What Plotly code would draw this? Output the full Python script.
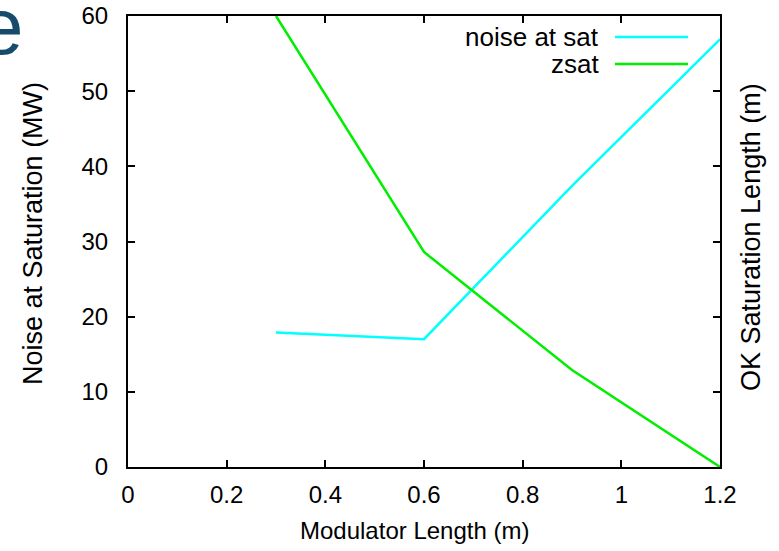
import plotly.graph_objects as go

# Data
modulator_length = [0.3, 0.6, 0.9, 1.2]
noise_at_sat = [17.9, 17.0, 37.4, 56.9]
zsat = [60.0, 28.6, 12.9, 0.0]
series_names = ["noise at sat", "zsat"]
series_colors = ["#00ffff", "#00ee00"]
x_ticks = [0, 0.2, 0.4, 0.6, 0.8, 1.0, 1.2]
x_tick_labels = ["0", "0.2", "0.4", "0.6", "0.8", "1", "1.2"]
y_ticks = [0, 10, 20, 30, 40, 50, 60]

W, H = 779, 551
L, R, T, B = 128, 59, 16, 84
FONT = "Liberation Sans, Arial, sans-serif"

fig = go.Figure()
fig.add_trace(go.Scatter(x=modulator_length, y=noise_at_sat, mode="lines",
                         name=series_names[0], line=dict(color=series_colors[0], width=2.5),
                         yaxis="y"))
fig.add_trace(go.Scatter(x=modulator_length, y=zsat, mode="lines",
                         name=series_names[1], line=dict(color=series_colors[1], width=2.5),
                         yaxis="y2"))

axis_common = dict(showgrid=False, zeroline=False, showline=True, linecolor="black",
                   linewidth=2, ticks="inside", ticklen=7, tickwidth=1.5, tickcolor="black",
                   automargin=False,
                   tickfont=dict(family=FONT, size=24, color="black"))

fig.update_layout(
    width=W, height=H,
    margin=dict(l=L, r=R, t=T, b=B, autoexpand=False),
    paper_bgcolor="white", plot_bgcolor="white",
    showlegend=False,
    xaxis=dict(range=[0, 1.2], tickvals=x_ticks, ticktext=x_tick_labels, mirror="ticks",
               ticklabelstandoff=5, **axis_common),
    yaxis=dict(range=[0, 60], tickvals=y_ticks, mirror="ticks", ticklabelstandoff=13,
               **axis_common),
    yaxis2=dict(range=[0, 60], overlaying="y", side="right", showticklabels=False,
                showgrid=False, zeroline=False, showline=False, ticks="", automargin=False),
)

pw = W - L - R
ph = H - T - B
def px(xp):
    return (xp - L) / pw
def py(yp):
    return 1 - (yp - T) / ph

# axis titles
fig.add_annotation(x=px(414), y=py(530), xref="paper", yref="paper",
                   text="Modulator Length (m)", showarrow=False,
                   xanchor="center", yanchor="middle",
                   font=dict(family=FONT, size=24, color="black"))
fig.add_annotation(x=px(33), y=py(234), xref="paper", yref="paper",
                   text="Noise at Saturation (MW)", showarrow=False, textangle=-90,
                   xanchor="center", yanchor="middle",
                   font=dict(family=FONT, size=27, color="black"))
fig.add_annotation(x=px(751), y=py(237), xref="paper", yref="paper",
                   text="OK Saturation Length (m)", showarrow=False, textangle=-90,
                   xanchor="center", yanchor="middle",
                   font=dict(family=FONT, size=27, color="black"))

# gnuplot-style legend (text right-aligned, sample line on the right)
legend_rows = [37, 64]
for name, color, yrow in zip(series_names, series_colors, legend_rows):
    fig.add_annotation(x=px(601), y=py(yrow), xref="paper", yref="paper", text=name,
                       showarrow=False, xanchor="right", yanchor="middle",
                       font=dict(family=FONT, size=26, color="black"))
    fig.add_shape(type="line", xref="paper", yref="paper", x0=px(615), x1=px(688),
                  y0=py(yrow), y1=py(yrow), line=dict(color=color, width=2.5))

# fragment of slide title visible at top-left
fig.add_annotation(x=px(26), y=py(26), xref="paper", yref="paper", text="e",
                   showarrow=False, xanchor="right", yanchor="middle",
                   font=dict(family=FONT, size=80, color="#174b6b"))

fig.write_html("out.html", config={"displayModeBar": False},
               post_script="document.body.style.margin='0';")
